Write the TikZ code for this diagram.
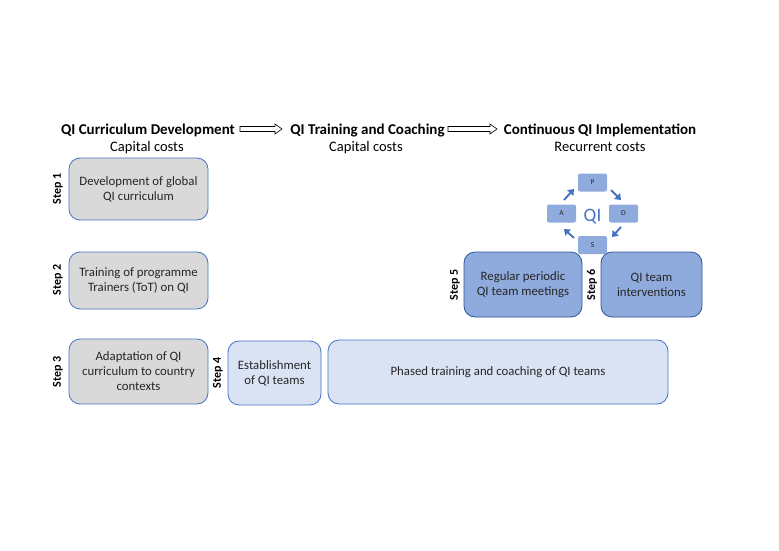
\documentclass[tikz,border=0pt]{standalone}
\usepackage{fontspec}
\setmainfont{Carlito}
\usetikzlibrary{arrows.meta,calc}
\definecolor{boxline}{HTML}{4472C4}
\definecolor{darkline}{HTML}{2F5597}
\definecolor{greyfill}{HTML}{D9D9D9}
\definecolor{lightfill}{HTML}{DAE3F3}
\definecolor{midfill}{HTML}{8FAADC}
\definecolor{txt}{HTML}{262626}
\begin{document}
\begin{tikzpicture}[x=1pt,y=-1pt,
	box/.style={draw=boxline,line width=0.8pt,rounded corners=11pt,align=center,text=txt,font=\fontsize{12.8}{15}\selectfont},
	greybox/.style={box,fill=greyfill},
	lightbox/.style={box,fill=lightfill},
	midbox/.style={box,fill=midfill,draw=darkline},
	pdsa/.style={fill=midfill,rounded corners=2pt,minimum width=29pt,minimum height=18pt,inner sep=0pt,font=\fontsize{7.5}{8}\selectfont,text=txt},
	steplabel/.style={rotate=90,font=\bfseries\fontsize{12}{13}\selectfont},
	head/.style={anchor=base,font=\bfseries\fontsize{15}{17}\selectfont},
	cost/.style={anchor=base,font=\fontsize{14.5}{16}\selectfont},
	hollow/.style={draw=black,line width=0.6pt,fill=white},
	cyc/.style={draw=boxline,line width=1.9pt,-{Triangle[length=5.5pt,width=8pt]}}]
			\useasboundingbox (0,0) rectangle (779,551);
			\node[head] (h1) at (148,134) {QI Curriculum Development};
			\node[head] (h2) at (367.5,134) {QI Training and Coaching};
			\node[head] (h3) at (600,134) {Continuous QI Implementation};
			\node[cost] (c1) at (147,151) {Capital costs};
			\node[cost] (c2) at (366,151) {Capital costs};
			\node[cost] (c3) at (600,151) {Recurrent costs};
			\coordinate (a1) at (240,129);
			\coordinate (a2) at (448,129);
			\draw[hollow] ($(a1)+(0,-2.5)$) -- ++(35,0) -- ++(0,-2.5) -- ++(7,5) -- ++(-7,5) -- ++(0,-2.5) -- ++(-35,0) -- cycle;
			\draw[hollow] ($(a2)+(0,-2.5)$) -- ++(42,0) -- ++(0,-2.5) -- ++(7,5) -- ++(-7,5) -- ++(0,-2.5) -- ++(-42,0) -- cycle;
			\node[greybox,minimum width=139pt,minimum height=62pt] (s1) at (138.5,189) {Development of global\\QI curriculum};
			\node[greybox,minimum width=139pt,minimum height=57pt] (s2) at (138.5,280.5) {Training of programme\\Trainers (ToT) on QI};
			\node[greybox,minimum width=139pt,minimum height=65pt] (s3) at (138.5,371.5) {Adaptation of QI\\curriculum to country\\contexts};
			\node[lightbox,minimum width=93pt,minimum height=64pt] (s4) at (274.5,373) {Establishment\\of QI teams};
			\node[lightbox,minimum width=340pt,minimum height=64pt] (ph) at (498,372) {Phased training and coaching of QI teams};
			\node[midbox,minimum width=118pt,minimum height=65pt] (s5) at (523,284.5) {Regular periodic\\QI team meetings};
			\node[midbox,minimum width=101pt,minimum height=65pt] (s6) at (651.5,284.5) {QI team\\interventions};
			\node[steplabel] (l1) at (58,189) {Step 1};
			\node[steplabel] (l2) at (58,280) {Step 2};
			\node[steplabel] (l3) at (58,372) {Step 3};
			\node[steplabel] (l4) at (218,373) {Step 4};
			\node[steplabel] (l5) at (455,285) {Step 5};
			\node[steplabel] (l6) at (592,285) {Step 6};
			\node[pdsa] (P) at (592.5,182.5) {P};
			\node[pdsa] (D) at (623.5,213.5) {D};
			\node[pdsa] (A) at (561.5,213.5) {A};
			\node[pdsa] (S) at (592.5,245) {S};
			\node[text=boxline,font=\fontsize{19}{20}\selectfont] (qi) at (592.5,217) {QI};
			\coordinate (ap1) at (564,200);
			\coordinate (ap2) at (574,189);
			\coordinate (pd1) at (611,190);
			\coordinate (pd2) at (621,200);
			\coordinate (ds1) at (621,227);
			\coordinate (ds2) at (612,237);
			\coordinate (sa1) at (574,238);
			\coordinate (sa2) at (564,229);
			\draw[cyc] (ap1) -- (ap2);
			\draw[cyc] (pd1) -- (pd2);
			\draw[cyc] (ds1) -- (ds2);
			\draw[cyc] (sa1) -- (sa2);
		\end{tikzpicture}
\end{document}
